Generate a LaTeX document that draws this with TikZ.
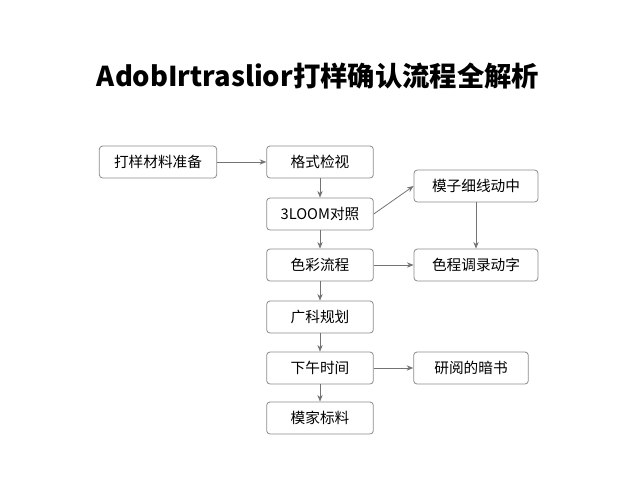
\documentclass[tikz,border=0pt]{standalone}
\usepackage{fontspec}
\setmainfont{Noto Sans CJK SC}
\usetikzlibrary{arrows.meta}

\begin{document}
\begin{tikzpicture}[
  x=0.75pt,
  y=-0.75pt,
  stepnode/.style={draw=black!45,rounded corners=2.5pt,fill=white,line width=0.6pt,
    minimum height=24pt,minimum width=80pt,inner sep=2pt,font=\fontsize{11}{12}\selectfont},
  flow/.style={draw=black!55,line width=0.6pt,-{Stealth[length=5pt,width=4pt]}}
]

  \useasboundingbox (0,0) rectangle (640,480);

  % title
  \node[font=\fontsize{20.5}{24}\bfseries\selectfont] (title) at (318,76) {AdobIrtraslior打样确认流程全解析};

  % nodes
  \node[stepnode,minimum width=88pt] (start)  at (158,162) {打样材料准备};
  \node[stepnode] (check)  at (320,162) {格式检视};
  \node[stepnode] (color)  at (320,214) {3LOOM对照};
  \node[stepnode,minimum width=93pt] (detail) at (476,186) {模子细线动中};
  \node[stepnode] (proc)   at (320,265) {色彩流程};
  \node[stepnode,minimum width=93pt] (record) at (476,265) {色程调录动字};
  \node[stepnode] (plan)   at (320,317) {广科规划};
  \node[stepnode] (time)   at (320,368) {下午时间};
  \node[stepnode,minimum width=86pt] (study)  at (471,368) {研阅的暗书};
  \node[stepnode] (final)  at (320,418) {模家标料};

  % arrows
  \draw[flow] (start) -- (check);
  \draw[flow] (check) -- (color);
  \draw[flow] (color.east) -- (detail.west);
  \draw[flow] (color) -- (proc);
  \draw[flow] (detail) -- (record);
  \draw[flow] (proc) -- (record);
  \draw[flow] (proc) -- (plan);
  \draw[flow] (plan) -- (time);
  \draw[flow] (time) -- (study);
  \draw[flow] (time) -- (final);

\end{tikzpicture}
\end{document}
